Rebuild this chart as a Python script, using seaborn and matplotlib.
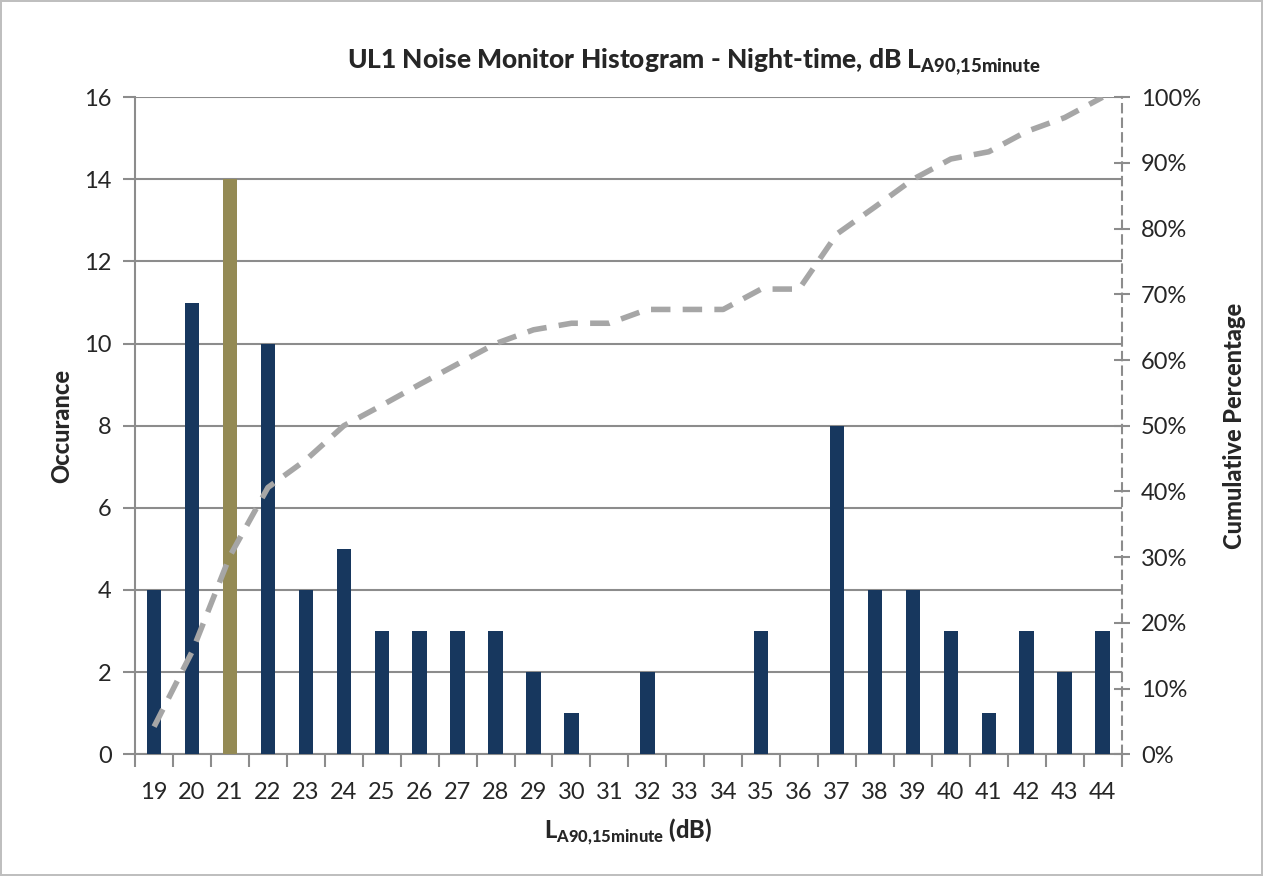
import numpy as np
import pandas as pd
from matplotlib import pyplot as plt
from matplotlib.ticker import FixedLocator, PercentFormatter
import seaborn as sns

# noise levels (dB) and occurrences
levels = ['19', '20', '21', '22', '23', '24', '25', '26', '27', '28', '29', '30', '31',
          '32', '33', '34', '35', '36', '37', '38', '39', '40', '41', '42', '43', '44']
counts = [4, 11, 14, 10, 4, 5, 3, 3, 3, 3, 2, 1, 0,
          2, 0, 0, 3, 0, 8, 4, 4, 3, 1, 3, 2, 3]
cum_pct = [4.2, 15.6, 30.2, 40.6, 44.8, 50.0, 53.1, 56.3, 59.4, 62.5, 64.6, 65.6, 65.6,
           67.7, 67.7, 67.7, 70.8, 70.8, 79.2, 83.3, 87.5, 90.6, 91.7, 94.8, 96.9, 100.0]
highlight = '21'

navy = '#17375E'
olive = '#948A54'
grey = '#8C8C8C'
txt = '#262626'

sns.set_style('white')
plt.rcParams['font.family'] = ['Lato', 'DejaVu Sans']
plt.rcParams['mathtext.fontset'] = 'custom'
plt.rcParams['mathtext.rm'] = 'Lato'
plt.rcParams['mathtext.bf'] = 'Lato:black'

df = pd.DataFrame({'level': levels, 'count': counts})
palette = {lv: (olive if lv == highlight else navy) for lv in levels}

fig = plt.figure(figsize=(12.63, 8.76), dpi=100)
fig.patch.set_edgecolor('#BFBFBF')
fig.patch.set_linewidth(1.5)
ax = fig.add_axes([0.107, 0.139, 0.781, 0.750])

sns.barplot(data=df, x='level', y='count', hue='level', palette=palette,
            legend=False, width=0.38, saturation=1, linewidth=0, ax=ax, zorder=3)

ax.set_ylim(0, 16)
ax.set_xlim(-0.5, len(levels) - 0.5)
ax.set_yticks(range(0, 17, 2))
ax.yaxis.grid(True, color=grey, linewidth=1.5, zorder=0)
ax.set_axisbelow(True)
for s in ['top', 'right']:
    ax.spines[s].set_visible(False)
for s in ['left', 'bottom']:
    ax.spines[s].set_color(grey)
    ax.spines[s].set_linewidth(1.5)
ax.xaxis.set_minor_locator(FixedLocator(np.arange(-0.5, len(levels), 1)))
ax.tick_params(axis='x', which='major', length=0, pad=20, labelsize=17, colors=txt)
ax.tick_params(axis='x', which='minor', length=9, width=1.5, color=grey, bottom=True)
ax.tick_params(axis='y', length=9, width=1.5, color=grey, labelsize=17, colors=txt,
               left=True, pad=8)
ax.set_xlabel(r'$\mathbf{L}_{\mathbf{A90{,}15minute}}$ (dB)', fontsize=17,
              fontweight='black', labelpad=10)
ax.set_ylabel('Occurance', fontsize=17, fontweight='black', labelpad=8)

ax2 = ax.twinx()
sns.lineplot(x=np.arange(len(levels)), y=cum_pct, ax=ax2, color='#A6A6A6',
             linewidth=4, linestyle=(0, (3.5, 2.2)), zorder=4)
ax2.set_ylim(0, 100)
ax2.set_yticks(range(0, 101, 10))
ax2.yaxis.set_major_formatter(PercentFormatter(decimals=0))
for s in ['top', 'left', 'bottom']:
    ax2.spines[s].set_visible(False)
ax2.spines['right'].set_color(grey)
ax2.spines['right'].set_linewidth(1.5)
ax2.spines['right'].set_linestyle((0, (4, 3)))
ax2.tick_params(axis='y', direction='inout', length=12, width=1.5, color=grey,
                labelsize=17, colors=txt, right=True, pad=8)
ax2.set_ylabel('Cumulative Percentage', fontsize=17, fontweight='black', labelpad=16)

fig.text(0.549, 0.929,
         r'UL1 Noise Monitor Histogram - Night-time, dB $\mathbf{L}_{\mathbf{A90{,}15minute}}$',
         ha='center', va='center', fontsize=19, fontweight='black')

plt.savefig('out.png', dpi=100, edgecolor=fig.get_edgecolor())
